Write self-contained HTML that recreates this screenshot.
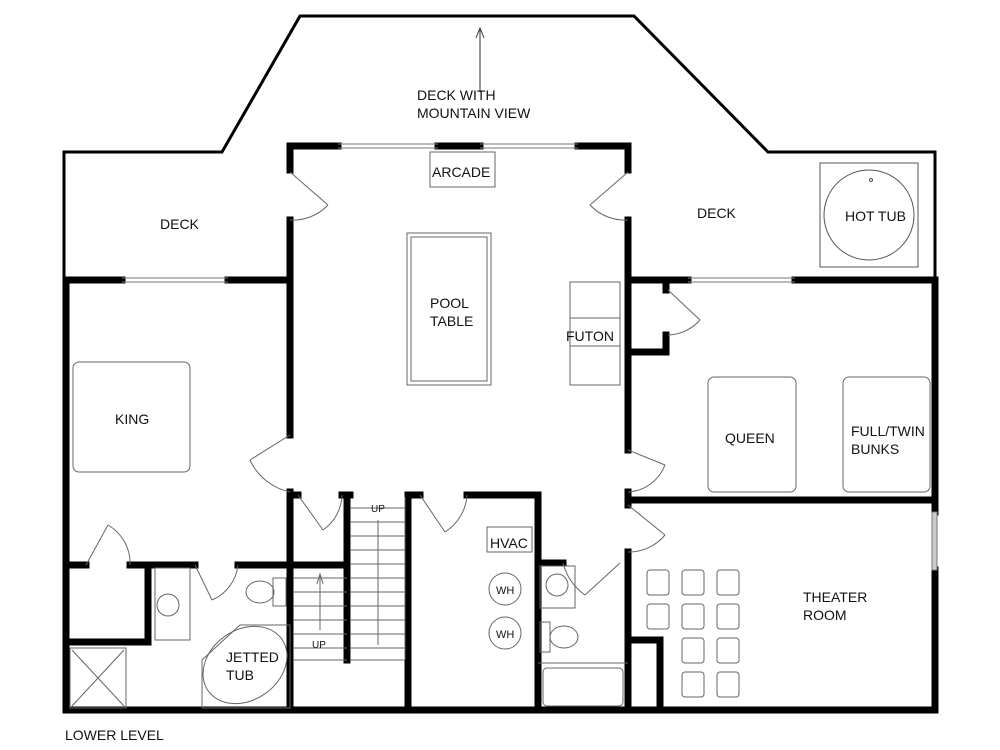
<!DOCTYPE html>
<html><head><style>
html,body{margin:0;padding:0;background:#fff;}
svg{display:block;}
text{font-family:"Liberation Sans",sans-serif;font-size:14px;fill:#111;}
</style></head><body>
<svg width="1000" height="750" viewBox="0 0 1000 750" xmlns="http://www.w3.org/2000/svg">
<rect width="1000" height="750" fill="#fff"/>
<!-- deck outline -->
<polyline points="64,277 64,152 222,152 300,16 634,16 768,152 935,152 935,277" fill="none" stroke="#000" stroke-width="3"/>
<!-- arrow -->
<line x1="480" y1="92" x2="480" y2="30" stroke="#333" stroke-width="1"/>
<polyline points="476,38 480,28 484,38" fill="none" stroke="#333" stroke-width="1"/>
<text x="417" y="100">DECK WITH</text>
<text x="417" y="118">MOUNTAIN VIEW</text>
<text x="160" y="229">DECK</text>
<text x="697" y="218">DECK</text>
<!-- hot tub -->
<rect x="820" y="163" width="98" height="104" fill="none" stroke="#555" stroke-width="1"/>
<circle cx="869" cy="215" r="45" fill="none" stroke="#555" stroke-width="1"/>
<circle cx="871" cy="180" r="1.5" fill="none" stroke="#555"/>
<text x="845" y="221">HOT TUB</text>

<g stroke="#000" stroke-width="7" fill="none" stroke-linecap="square">
<!-- central room top -->
<line x1="290" y1="146" x2="338" y2="146"/>
<line x1="438" y1="146" x2="480" y2="146"/>
<line x1="578" y1="146" x2="628" y2="146"/>
<!-- central left wall -->
<line x1="290" y1="146" x2="290" y2="170"/>
<line x1="290" y1="220" x2="290" y2="435"/>
<line x1="290" y1="492" x2="290" y2="710"/>
<!-- central right wall -->
<line x1="628" y1="146" x2="628" y2="170"/>
<line x1="628" y1="220" x2="628" y2="450"/>
<line x1="628" y1="492" x2="628" y2="505"/>
<line x1="628" y1="552" x2="628" y2="710"/>
<!-- left bedroom -->
<line x1="66" y1="280" x2="122" y2="280"/>
<line x1="228" y1="280" x2="290" y2="280"/>
<line x1="66" y1="280" x2="66" y2="710"/>
<line x1="66" y1="710" x2="935" y2="710"/>
<!-- right -->
<line x1="628" y1="280" x2="688" y2="280"/>
<line x1="795" y1="280" x2="935" y2="280"/>
<line x1="935" y1="280" x2="935" y2="512"/>
<line x1="935" y1="570" x2="935" y2="710"/>
<line x1="628" y1="500" x2="935" y2="500"/>
<!-- closet right -->
<line x1="666" y1="280" x2="666" y2="290"/>
<line x1="666" y1="335" x2="666" y2="352"/>
<line x1="628" y1="352" x2="666" y2="352"/>
<!-- king bath -->
<line x1="66" y1="565" x2="86" y2="565"/>
<line x1="130" y1="565" x2="195" y2="565"/>
<line x1="238" y1="565" x2="290" y2="565"/>
<line x1="148" y1="565" x2="148" y2="642"/>
<line x1="66" y1="642" x2="148" y2="642"/>
<!-- stair area -->
<line x1="290" y1="565" x2="347" y2="565"/>
<line x1="347" y1="495" x2="347" y2="660"/>
<line x1="293" y1="495" x2="298" y2="495"/>
<line x1="342" y1="495" x2="350" y2="495"/>
<line x1="408" y1="495" x2="408" y2="710"/>
<line x1="408" y1="495" x2="420" y2="495"/>
<line x1="467" y1="495" x2="538" y2="495"/>
<line x1="538" y1="495" x2="538" y2="710"/>
<line x1="538" y1="563" x2="563" y2="563"/>
<line x1="630" y1="640" x2="660" y2="640"/>
<line x1="660" y1="640" x2="660" y2="710"/>
</g>
<!-- windows -->
<g stroke="#777" stroke-width="1" fill="none">
<line x1="338" y1="144" x2="438" y2="144"/><line x1="338" y1="148" x2="438" y2="148"/>
<line x1="480" y1="144" x2="578" y2="144"/><line x1="480" y1="148" x2="578" y2="148"/>
<line x1="122" y1="278" x2="228" y2="278"/><line x1="122" y1="282" x2="228" y2="282"/>
<line x1="688" y1="278" x2="795" y2="278"/><line x1="688" y1="282" x2="795" y2="282"/>
<rect x="932" y="512" width="5" height="58" fill="#ccc"/>
</g>
<!-- doors -->
<g stroke="#666" stroke-width="1" fill="none">
<path d="M290 172 L328 205 M290 220 A48 48 0 0 0 328 205"/>
<path d="M628 172 L590 205 M628 220 A48 48 0 0 1 590 205"/>
<path d="M668 290 L700 320 M668 335 A44 44 0 0 0 700 320"/>
<path d="M290 435 L250 460 M290 492 A57 57 0 0 1 250 460"/>
<path d="M628 450 L665 465 M628 492 A42 42 0 0 0 665 465"/>
<path d="M628 505 L665 535 M628 552 A47 47 0 0 0 665 535"/>
<path d="M298 495 L323 530 M342 495 A44 44 0 0 1 323 530"/>
<path d="M420 495 L445 532 M467 495 A47 47 0 0 1 445 532"/>
<path d="M86 565 L108 525 M130 565 A44 44 0 0 0 108 525"/>
<path d="M195 565 L212 600 M238 565 A43 43 0 0 1 212 600"/>
<path d="M620 563 L585 595 M563 563 A57 57 0 0 0 585 595"/>
</g>
<!-- furniture -->
<g stroke="#666" stroke-width="1" fill="none">
<rect x="430" y="152" width="65" height="35"/>
<rect x="407" y="233" width="84" height="152"/>
<rect x="411" y="237" width="76" height="144"/>
<rect x="570" y="282" width="50" height="103"/>
<line x1="570" y1="318" x2="620" y2="318"/><line x1="570" y1="346" x2="620" y2="346"/>
<rect x="73" y="362" width="117" height="110" rx="6"/>
<rect x="708" y="377" width="88" height="115" rx="6"/>
<rect x="843" y="377" width="87" height="115" rx="6"/>
<rect x="155" y="568" width="35" height="72"/>
<circle cx="168" cy="605" r="11"/>
<ellipse cx="260" cy="592" rx="14" ry="11"/><rect x="273" y="578" width="13" height="28"/>
<rect x="70" y="648" width="56" height="60"/>
<line x1="72" y1="650" x2="124" y2="706"/><line x1="124" y1="650" x2="72" y2="706"/>
<path d="M240 625 L290 625 L290 708 L202 708 L202 660 Z"/>
<ellipse cx="245" cy="665" rx="45" ry="35" transform="rotate(-35 245 665)"/>
<rect x="487" y="527" width="45" height="25"/>
<circle cx="505" cy="589" r="16"/><circle cx="505" cy="633" r="16"/>
<rect x="540" y="566" width="35" height="42"/>
<circle cx="557" cy="585" r="11"/>
<rect x="540" y="622" width="10" height="30"/><ellipse cx="564" cy="637" rx="14" ry="11"/>
<line x1="538" y1="663" x2="628" y2="663"/>
<rect x="543" y="668" width="80" height="38" rx="4"/>
</g>
<!-- stairs -->
<g stroke="#666" stroke-width="1" fill="none">
<line x1="405" y1="497" x2="405" y2="660"/>
<line x1="350" y1="660" x2="405" y2="660"/>
<line x1="293" y1="660" x2="347" y2="660"/>
<path d="M350 508H405M350 522H405M350 536H405M350 550H405M350 564H405M350 578H405M350 592H405M350 606H405M350 620H405M350 634H405M350 648H405"/>
<path d="M293 578H347M293 592H347M293 606H347M293 620H347M293 634H347M293 648H347"/>
<line x1="378" y1="520" x2="378" y2="645"/>
<line x1="320" y1="575" x2="320" y2="630"/>
<polyline points="317,584 320,574 323,584"/>
</g>
<text x="371" y="512" style="font-size:10px">UP</text>
<text x="312" y="648" style="font-size:10px">UP</text>
<!-- theater chairs -->
<g stroke="#666" stroke-width="1" fill="none">
<rect x="647" y="570" width="22" height="25" rx="3"/><rect x="682" y="570" width="22" height="25" rx="3"/><rect x="717" y="570" width="22" height="25" rx="3"/>
<rect x="647" y="604" width="22" height="25" rx="3"/><rect x="682" y="604" width="22" height="25" rx="3"/><rect x="717" y="604" width="22" height="25" rx="3"/>
<rect x="682" y="638" width="22" height="25" rx="3"/><rect x="717" y="638" width="22" height="25" rx="3"/>
<rect x="682" y="672" width="22" height="25" rx="3"/><rect x="717" y="672" width="22" height="25" rx="3"/>
</g>
<text x="432" y="177">ARCADE</text>
<text x="430" y="308">POOL</text>
<text x="430" y="326">TABLE</text>
<text x="566" y="341">FUTON</text>
<text x="115" y="424">KING</text>
<text x="725" y="443">QUEEN</text>
<text x="851" y="436">FULL/TWIN</text>
<text x="851" y="454">BUNKS</text>
<text x="490" y="548">HVAC</text>
<text x="496" y="594" style="font-size:11px">WH</text>
<text x="496" y="638" style="font-size:11px">WH</text>
<text x="226" y="662">JETTED</text>
<text x="226" y="680">TUB</text>
<text x="803" y="602">THEATER</text>
<text x="803" y="620">ROOM</text>
<text x="65" y="740">LOWER LEVEL</text>
</svg>
</body></html>
